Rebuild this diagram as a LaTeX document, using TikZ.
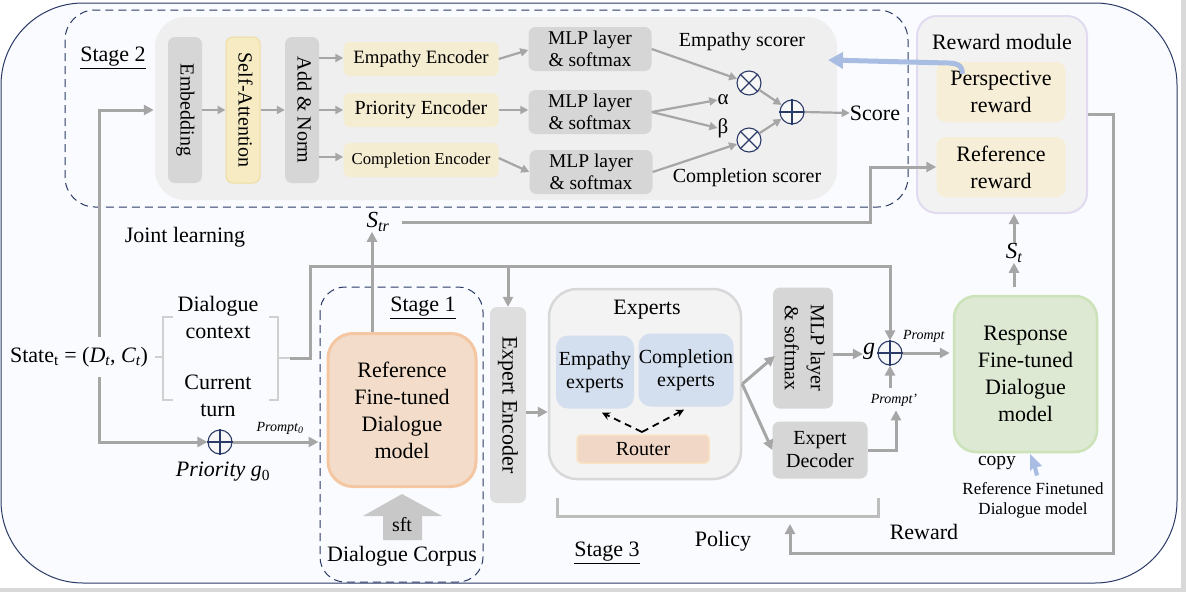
\documentclass[tikz,border=0pt]{standalone}
\usepackage{fontspec}
\setmainfont{Liberation Serif}
\usepackage{graphicx}
\usetikzlibrary{arrows.meta,calc}
\definecolor{navy}{HTML}{2B3A67}
\definecolor{bgfill}{HTML}{F9FBFE}
\definecolor{panel}{HTML}{EFEFEF}
\definecolor{boxg}{HTML}{D6D6D6}
\definecolor{yfill}{HTML}{F6EBC3}
\definecolor{ydraw}{HTML}{EEDDA0}
\definecolor{encfill}{HTML}{F5EDD2}
\definecolor{peachf}{HTML}{F3DDCA}
\definecolor{peachd}{HTML}{F4C7A2}
\definecolor{greenf}{HTML}{DDE9D3}
\definecolor{greend}{HTML}{CCE2B9}
\definecolor{bluef}{HTML}{D3DFEF}
\definecolor{routerf}{HTML}{F1D7C6}
\definecolor{routerd}{HTML}{FAE3C5}
\definecolor{arrg}{HTML}{A6A6A6}
\definecolor{lblue}{HTML}{A9BDE2}
\definecolor{rmd}{HTML}{E2DAF0}
\definecolor{rmf}{HTML}{F2F2F2}
\definecolor{creamf}{HTML}{F7EED8}
\definecolor{expf}{HTML}{F3F3F3}
\definecolor{expd}{HTML}{D8D8D8}
\definecolor{brk}{HTML}{D0D0D0}
\definecolor{edgegray}{HTML}{D9D9D9}
\definecolor{sftg}{HTML}{C8C8C8}
\definecolor{polg}{HTML}{BDBDBD}
\newcommand\fsz[2]{\fontsize{#1}{#2}\selectfont}
\newcommand\rtext[1]{\rotatebox{-90}{\begin{tabular}{@{}c@{}}#1\end{tabular}}}
\tikzset{
  gbox/.style={fill=boxg, rounded corners=7, inner sep=0pt, align=center},
  encbox/.style={fill=encfill, rounded corners=6, inner sep=0pt, align=center, minimum width=155pt, minimum height=34pt},
  mlpbox/.style={fill=boxg, rounded corners=7, inner sep=0pt, align=center, minimum width=123pt, minimum height=44pt, font=\fsz{19.5}{22}},
  arr/.style={draw=arrg, line width=3pt, -{Triangle[length=10pt,width=10pt]}},
  thinarr/.style={draw=arrg, line width=2.2pt, -{Triangle[length=8pt,width=8pt]}},
  lbl/.style={inner sep=0pt, align=center},
  sym/.style={circle, draw=navy, line width=1.1pt, fill=panel!50!white, minimum size=24pt, inner sep=0pt},
  symline/.style={draw=navy, line width=1.1pt},
  dasharr/.style={draw=black, line width=1.8pt, dash pattern=on 7pt off 5pt, -{Stealth[length=8pt,width=8pt]}},
}
\begin{document}
\begin{tikzpicture}[x=1pt,y=-1pt, font=\fsz{22}{27}]
\useasboundingbox (0,0) rectangle (1186,592);
\fill[white] (0,0) rectangle (1186,592);
\fill[edgegray] (1181,0) rectangle (1186,592);
\fill[edgegray] (0,588) rectangle (1186,592);
% outer frame
\draw[navy, fill=bgfill, line width=1pt, rounded corners=82] (1,3) rectangle (1177,583);
% stage 2
\draw[navy, line width=1pt, dash pattern=on 8pt off 5pt, rounded corners=30] (65,10) rectangle (908,207);
\fill[panel, rounded corners=30] (155,17) rectangle (837,200);
\node[lbl] (st2) at (113,58) {\underline{Stage 2}};
\node[gbox, minimum width=34pt, minimum height=146pt, font=\fsz{20}{22}] (emb) at (185,110) {\rtext{Embedding}};
\node[gbox, fill=yfill, draw=ydraw, line width=1pt, minimum width=34pt, minimum height=146pt, font=\fsz{20}{22}] (satt) at (243,110) {\rtext{Self-Attention}};
\node[gbox, minimum width=34pt, minimum height=146pt, font=\fsz{20}{22}] (addn) at (302,110) {\rtext{Add \& Norm}};
\draw[thinarr] (emb.east) -- (satt.west);
\draw[thinarr] (satt.east) -- (addn.west);
\node[encbox, font=\fsz{18.8}{22}] (enc1) at (421,59) {Empathy Encoder};
\node[encbox, font=\fsz{20}{22}] (enc2) at (421,110) {Priority Encoder};
\node[encbox, font=\fsz{16.7}{20}] (enc3) at (421,160) {Completion Encoder};
\draw[thinarr] (addn.east |- 0,58) -- (enc1.west |- 0,58);
\draw[thinarr] (addn.east |- enc2) -- (enc2.west);
\draw[thinarr] (addn.east |- 0,157) -- (enc3.west |- 0,157);
\node[mlpbox] (m1) at (590,49) {MLP layer\\\& softmax};
\node[mlpbox] (m2) at (590,112) {MLP layer\\\& softmax};
\node[mlpbox] (m3) at (591,172) {MLP layer\\\& softmax};
\draw[thinarr] (enc1.east |- 0,59) -- (m1.west |- 0,50);
\draw[thinarr] (enc2.east) -- (m2.west |- enc2);
\draw[thinarr] (enc3.east |- 0,158) -- (m3.west);
\node[lbl, font=\fsz{20}{22}] (esc) at (742,42) {Empathy scorer};
\node[lbl, font=\fsz{20}{22}] (csc) at (747,178) {Completion scorer};
\node[sym] (x1) at (749,83) {};
\node[sym] (x2) at (749,140) {};
\node[sym] (pl) at (792,112) {};
\draw[symline] (x1.north east) -- (x1.south west) (x1.north west) -- (x1.south east);
\draw[symline] (x2.north east) -- (x2.south west) (x2.north west) -- (x2.south east);
\draw[symline] (pl.north) -- (pl.south) (pl.west) -- (pl.east);
\node[lbl, font=\fsz{21}{22}] (al) at (723,100) {α};
\node[lbl, font=\fsz{21}{22}] (be) at (723,128) {β};
\node[lbl] (score) at (875,113) {Score};
\draw[thinarr] (m1.east) -- (x1);
\draw[thinarr] (m2.east) -- (al.west);
\draw[thinarr] (m2.east) -- (be.west);
\draw[thinarr] (m3.east) -- (x2);
\draw[thinarr] (x1) -- (pl);
\draw[thinarr] (x2) -- (pl);
\draw[thinarr] (pl.east) -- (score.west);
% reward module
\node[fill=rmf, draw=rmd, line width=2pt, rounded corners=20, minimum width=170pt, minimum height=197pt, inner sep=0pt] (rm) at (1002,114.5) {};
\node[lbl] (rmt) at (1002,42) {Reward module};
\node[fill=creamf, rounded corners=9, minimum width=129pt, minimum height=60pt, inner sep=0pt, align=center] (pr) at (1001,92) {Perspective\\reward};
\node[fill=creamf, rounded corners=9, minimum width=129pt, minimum height=60pt, inner sep=0pt, align=center] (rr) at (1001,167) {Reference\\reward};
\coordinate (bt) at (828,60);
\draw[lblue, line width=5pt, -{Triangle[length=15pt,width=16pt]}] ($(pr.north west)+(26,12)$) .. controls ($(pr.north west)+(26,2)$) and ($(pr.north west)+(20,1)$) .. ($(pr.north west)+(4,1)$) -- (bt);
% S_tr
\node[lbl, font=\fsz{23}{26}] (str) at (378,222) {\textit{S\textsubscript{tr}}};
\draw[arr, shorten <=12pt] (str.east) -| (870,190) |- (rr.west);
% stage 1
\draw[navy, line width=1pt, dash pattern=on 8pt off 5pt, rounded corners=25] (320,287) rectangle (483,582);
\node[lbl] (st1) at (423,308) {\underline{Stage 1}};
\node[fill=peachf, draw=peachd, line width=3pt, rounded corners=25, minimum width=148pt, minimum height=153pt, inner sep=0pt, align=center] (ref) at (402,410) {Reference\\Fine-tuned\\Dialogue\\model};
\draw[arr] (ref.north -| 372,0) -- (str.south -| 372,0);
\fill[sftg] (383,540) -- (383,516) -- (363,516) -- (402,494) -- (442,516) -- (422,516) -- (422,540) -- cycle;
\node[lbl, font=\fsz{20}{22}] (sft) at (402,525) {sft};
\node[lbl] (corp) at (402,556) {Dialogue Corpus};
% state
\node[lbl] (state) at (79,357) {State\textsubscript{t} = (\textit{D\textsubscript{t}}, \textit{C\textsubscript{t}})};
\node[lbl] (dctx) at (218,317) {Dialogue\\context};
\node[lbl] (cturn) at (218,396) {Current\\turn};
\draw[brk, line width=2pt] (173,317) -- (163,317) -- (163,400) -- (173,400) (155,357) -- (163,357);
\draw[brk, line width=2pt] (269,317) -- (278,317) -- (278,400) -- (269,400) (278,358) -- (290,358);
\coordinate (sup) at (99,337);
\coordinate (sdn) at (99,377);
\draw[arr, shorten >=14pt] (sup) |- (emb.west);
\node[sym] (p0) at (220,442) {};
\draw[symline] (p0.north) -- (p0.south) (p0.west) -- (p0.east);
\draw[arr] (sdn) |- (p0.west);
\draw[arr, shorten >=8pt] (p0.east) -- (p0.east -| ref.west);
\node[lbl, font=\fsz{14}{16}] (pm0) at (280,428) {\textit{Prompt\textsubscript{0}}};
\node[lbl] (prio) at (223,472) {\textit{Priority g}\textsubscript{0}};
\node[lbl] (jl) at (185,237) {Joint learning};
% stage 3
\node[gbox, fill=boxg!80!white, minimum width=36pt, minimum height=196pt] (ee) at (508,405) {\rtext{Expert Encoder}};
\node[fill=expf, draw=expd, line width=2.5pt, rounded corners=28, minimum width=192pt, minimum height=190pt, inner sep=0pt] (exps) at (645,384) {};
\node[lbl] (expt) at (647,310) {Experts};
\node[fill=bluef, rounded corners=12, minimum width=78pt, minimum height=73pt, inner sep=0pt, align=center, font=\fsz{20}{23}] (empx) at (595,372) {Empathy\\experts};
\node[fill=bluef, rounded corners=12, minimum width=95pt, minimum height=73pt, inner sep=0pt, align=center, font=\fsz{20}{23}] (cmpx) at (686,370) {Completion\\experts};
\node[fill=routerf, draw=routerd, line width=1.5pt, rounded corners=4, minimum width=132pt, minimum height=28pt, inner sep=0pt, font=\fsz{20}{22}] (router) at (643,449) {Router};
\coordinate (rv) at (642,432);
\draw[dasharr] (rv) -- ($(empx.south)+(7,4)$);
\draw[dasharr] (rv) -- ($(cmpx.south)+(-2,3)$);
\draw[arr] (ee.east |- 0,412) -- (exps.west |- 0,412);
\node[gbox, minimum width=60pt, minimum height=121pt, font=\fsz{20}{26}] (mlp2) at (803,348) {\rtext{MLP layer\\\& softmax}};
\node[gbox, minimum width=95pt, minimum height=57pt, font=\fsz{20}{23}] (dec) at (820,450) {Expert\\Decoder};
\draw[arr] (exps.east) -- ($(mlp2.west)+(2,8)$);
\draw[arr] (exps.east) -- (dec.west);
\node[sym] (og) at (890,353) {};
\draw[symline] (og.north) -- (og.south) (og.west) -- (og.east);
\node[lbl, font=\fsz{24}{26}] (gl) at (869,351) {\textit{g}};
\draw[arr] (mlp2.east |- 0,354) -- (gl.west |- 0,354);
\coordinate (bk) at (290,358);
\draw[arr] (bk) -| (310,266) -| (og.north);
\coordinate (br) at (508,266);
\draw[arr] (br) -- (ee.north);
\node[lbl, font=\fsz{14}{16}] (pp) at (894,400) {\textit{Prompt'}};
\node[lbl, font=\fsz{14}{16}] (pm) at (924,336) {\textit{Prompt}};
\draw[arr, shorten <=6pt] (pp.north -| og) -- (og.south);
\draw[arr, shorten >=4pt] (dec.east) -| (pp.south -| 896,0);
% response model
\node[fill=greenf, draw=greend, line width=2.5pt, rounded corners=22, minimum width=143pt, minimum height=156pt, inner sep=0pt, align=center] (resp) at (1025.5,374) {Response\\Fine-tuned\\Dialogue\\model};
\draw[arr, shorten >=3pt] (og.east) -- (og.east -| resp.west);
\node[lbl, font=\fsz{23}{26}] (stt) at (1014,253) {\textit{S\textsubscript{t}}};
\draw[arr, shorten <=8pt] (resp.north -| stt) -- (stt.south);
\draw[arr] (stt.north) -- (rm.south -| stt);
\node[lbl, font=\fsz{19.5}{22}] (copy) at (997,463) {copy};
\fill[lblue] (1030,454) -- (1042,466) -- (1037,467) -- (1039,475) -- (1035,476) -- (1033,468) -- (1030,471) -- cycle;
\node[lbl, font=\fsz{17}{20}] (rfd) at (1033,500) {Reference Finetuned\\Dialogue model};
% policy
\draw[polg, line width=3pt] (557,498) -- (557,516) -- (878,516) -- (878,498);
\node[lbl] (pol) at (723,541) {Policy};
\node[lbl] (st3) at (607,553) {\underline{Stage 3}};
\node[lbl] (rwd) at (924,532) {Reward};
\coordinate (polin) at (790,524);
\draw[arr] (rm.east) -| (1113,553) -| (polin);
\end{tikzpicture}
\end{document}
